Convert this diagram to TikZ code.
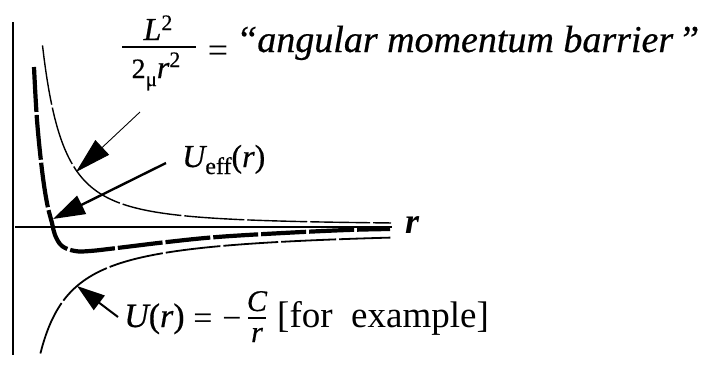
\documentclass[tikz,border=0pt]{standalone}
\usepackage{fontspec}
\setmainfont{Liberation Serif}
\newfontfamily\heavy[FakeBold=0.5]{Liberation Serif}
\usetikzlibrary{arrows.meta}
\begin{document}
\begin{tikzpicture}[x=1pt,y=-1pt,
  lbl/.style={inner sep=0pt, anchor=base west},
  clbl/.style={inner sep=0pt, anchor=base},
  axisline/.style={line width=1.6pt},
  thincurve/.style={line width=1.4pt, dash pattern=on 60pt off 3pt},
  thickcurve/.style={line width=4.2pt, line join=round, dash pattern=on 45pt off 3pt},
  midcurve/.style={line width=1.8pt, dash pattern=on 55pt off 3pt},
  barrarrow/.style={line width=0.9pt, -{Triangle[length=36pt,width=20pt]}},
  effarrow/.style={line width=2.4pt, -{Triangle[length=32pt,width=20pt]}},
  coularrow/.style={line width=2pt, -{Triangle[length=28pt,width=18pt]}}]
\useasboundingbox (0,0) rectangle (701,365);
% axes
\coordinate (vtop) at (13,22);
\coordinate (vbot) at (13,355);
\coordinate (hl) at (15,227);
\coordinate (hr) at (392,227);
\draw[axisline] (vtop) -- (vbot);
\draw[line width=1.4pt] (hl) -- (hr);
% barrier curve
\draw[thincurve, domain=4.15:39.0, samples=200, smooth]
  plot ({1+10*\x}, {225-3093.04/(\x*\x)});
% Coulomb curve
\draw[midcurve, domain=3.2:38.2, samples=200, smooth]
  plot ({8.4+10*\x}, {227+404.7/\x});
% effective potential
\draw[thickcurve] plot[smooth, tension=0.6] coordinates {
  (34,67) (37,120) (42,170) (47,203) (52,223) (55,235) (62,246)
  (75,251) (90,251) (117,248) (167,242) (217,237) (283,233) (347,230) (390,229)};
% top label
\node[clbl] (num) at (158,40) {\heavy\fontsize{32}{38}\selectfont\itshape L\raisebox{10pt}{\upshape\fontsize{22}{26}\selectfont 2}};
\coordinate (barl) at (122,47);
\coordinate (barr) at (196,47);
\draw[line width=1.3pt] (barl) -- (barr);
\node[clbl] (den) at (156,78) {\heavy\fontsize{28}{34}\selectfont 2\raisebox{-8pt}{\fontsize{21}{26}\selectfont μ}\fontsize{32}{38}\selectfont\itshape r\raisebox{11pt}{\upshape\fontsize{22}{26}\selectfont 2}};
\node[clbl] (eq1) at (218,62) {\fontsize{36}{42}\selectfont =};
\node[lbl] (barrtxt) at (236,52) {\heavy\fontsize{38}{44}\selectfont\itshape “angular momentum barrier};
\node[lbl] (rq) at (678,52) {\heavy\fontsize{38}{44}\selectfont\itshape ”};
% Ueff label
\node[lbl] (ueff) at (182,167) {\heavy\fontsize{32}{38}\selectfont\itshape U\raisebox{-7pt}{\upshape\fontsize{24}{28}\selectfont eff}\upshape(\itshape r\upshape)};
% r axis label
\node[lbl] (rlab) at (405,233) {\fontsize{36}{42}\selectfont\bfseries\itshape r};
% bottom label
\node[lbl] (ulab) at (124,327) {\heavy\fontsize{34}{40}\selectfont\itshape U\upshape(\itshape r\upshape)};
\node[clbl] (eq2) at (203,329) {\fontsize{34}{40}\selectfont =};
\node[clbl] (minus) at (232,329) {\fontsize{34}{40}\selectfont −};
\node[clbl] (cnum) at (257,311) {\heavy\fontsize{30}{36}\selectfont\itshape C};
\coordinate (cbl) at (248,318);
\coordinate (cbr) at (266,318);
\draw[line width=1.2pt] (cbl) -- (cbr);
\node[clbl] (cden) at (257,342) {\heavy\fontsize{30}{36}\selectfont\itshape r};
\node[lbl] (forex) at (277,327) {\fontsize{37}{42}\selectfont [for\ \ example]};
% arrows
\coordinate (bstart) at (140,112);
\coordinate (btip) at (76,172);
\draw[barrarrow] (bstart) -- (btip);
\coordinate (estart) at (166,163);
\coordinate (etip) at (53,219);
\draw[effarrow] (estart) -- (etip);
\coordinate (cstart) at (118,317);
\coordinate (ctip) at (77,286);
\draw[coularrow] (cstart) -- (ctip);
\end{tikzpicture}
\end{document}
